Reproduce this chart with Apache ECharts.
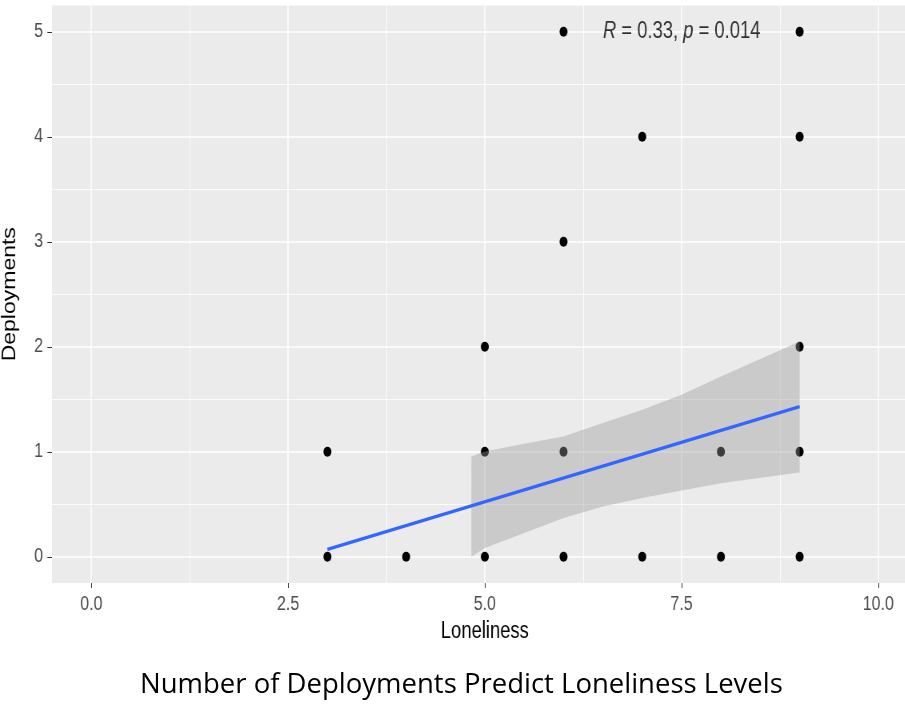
<!DOCTYPE html>
<html>
<head>
<meta charset="utf-8">
<script src="https://cdn.jsdelivr.net/npm/echarts@6/dist/echarts.min.js"></script>
<style>
  html, body { margin: 0; padding: 0; background: #ffffff; overflow: hidden; }
  #wrap { position: relative; width: 905px; height: 704px; overflow: hidden; }
  #plot { position: absolute; left: 0; top: 0; height: 704px; transform-origin: 0 0; }
  #caption { position: absolute; left: 0; top: 650px; width: 905px; height: 54px; }
</style>
</head>
<body>
<div id="wrap">
  <div id="plot"></div>
  <div id="caption"></div>
</div>
<script>
// Observations: loneliness score (x) vs number of deployments (y)
const lonelinessX = [3, 3, 4, 5, 5, 5, 6, 6, 6, 6, 7, 7, 8, 8, 9, 9, 9, 9, 9];
const deploymentsY = [0, 1, 0, 0, 1, 2, 0, 1, 3, 5, 0, 4, 0, 1, 0, 1, 2, 4, 5];

// Linear fit (lm) and its 95% confidence band
const fitX = [3, 9];
const fitY = [0.07, 1.43];
const bandX    = [4.83, 5, 5.5, 6, 6.5, 7, 7.5, 8, 8.5, 9];
const bandLow  = [0.0, 0.083, 0.226, 0.368, 0.479, 0.559, 0.632, 0.70, 0.752, 0.803];
const bandHigh = [0.955, 1.003, 1.076, 1.146, 1.273, 1.40, 1.543, 1.717, 1.883, 2.05];

// Axis limits and breaks
const xLimits = [-0.5, 10.5];
const yLimits = [-0.25, 5.25];
const xMajor = [0, 2.5, 5, 7.5, 10];
const xMinor = [1.25, 3.75, 6.25, 8.75];
const yMajor = [0, 1, 2, 3, 4, 5];
const yMinor = [0.5, 1.5, 2.5, 3.5, 4.5];

// Correlation annotation
const corrR = '0.33';
const corrP = '0.014';
const corrAt = [6.5, 5];

const captionText = 'Number of Deployments Predict Loneliness Levels';

// The plot panel is drawn on a wider canvas and condensed horizontally,
// giving the narrow lettering and slightly oval points of the exported figure.
const SQUEEZE = 0.8;
const plotEl = document.getElementById('plot');
plotEl.style.width = (905 / SQUEEZE) + 'px';
plotEl.style.transform = 'scaleX(' + SQUEEZE + ')';
const sx = v => v / SQUEEZE;  // screen px -> plot canvas px (horizontal)

const sansFont = '"Liberation Sans", Arial, Helvetica, sans-serif';

function axisPair(kind, limits, major, minor, fmt) {
  const base = {
    type: 'value', min: limits[0], max: limits[1],
    axisLine: { show: false, onZero: false }
  };
  return [
    Object.assign({}, base, {
      axisTick: {
        show: true, length: kind === 'x' ? 5 : sx(4.6), customValues: major,
        lineStyle: { color: '#333333', width: 1 }
      },
      axisLabel: {
        customValues: major, formatter: fmt, color: '#4d4d4d',
        fontFamily: sansFont, fontSize: 20, margin: kind === 'x' ? 11 : sx(9)
      },
      splitLine: { show: true, lineStyle: { color: '#ffffff', width: 1.5 } }
    }),
    Object.assign({}, base, {
      axisTick: { show: false, customValues: minor },
      axisLabel: { show: false, customValues: minor },
      splitLine: { show: true, lineStyle: { color: '#ffffff', width: 0.8 } }
    })
  ];
}

const xAxes = axisPair('x', xLimits, xMajor, xMinor, v => v.toFixed(1));
Object.assign(xAxes[0], {
  name: 'Loneliness', nameLocation: 'middle', nameGap: 37,
  nameTextStyle: { fontFamily: sansFont, fontSize: 23, color: '#000000' }
});
const yAxes = axisPair('y', yLimits, yMajor, yMinor, v => String(v));
Object.assign(yAxes[0], {
  name: 'Deployments', nameLocation: 'middle', nameGap: 41,
  nameTextStyle: { fontFamily: sansFont, fontSize: 23, color: '#000000' }
});

const plot = echarts.init(plotEl, null, { renderer: 'canvas' });

plot.setOption({
  animation: false,
  backgroundColor: 'transparent',
  grid: {
    left: sx(52), top: 5.5, width: sx(865.7), height: 577.5,
    outerBoundsMode: 'none', containLabel: false,
    show: true, backgroundColor: '#ebebeb', borderWidth: 0
  },
  xAxis: xAxes,
  yAxis: yAxes,
  series: [
    {
      type: 'scatter', xAxisIndex: 0, yAxisIndex: 0, z: 2, silent: true,
      symbol: 'circle', symbolSize: 10,
      itemStyle: { color: '#000000', opacity: 1 },
      data: lonelinessX.map((x, i) => [x, deploymentsY[i]])
    },
    {
      type: 'custom', xAxisIndex: 0, yAxisIndex: 0, z: 3, silent: true,
      data: [[bandX[0], bandLow[0]]],
      renderItem: (params, api) => {
        const upper = bandX.map((x, i) => api.coord([x, bandHigh[i]]));
        const lower = bandX.map((x, i) => api.coord([x, bandLow[i]])).reverse();
        return {
          type: 'polygon',
          shape: { points: upper.concat(lower) },
          style: { fill: 'rgba(153,153,153,0.4)' }
        };
      }
    },
    {
      type: 'line', xAxisIndex: 0, yAxisIndex: 0, z: 4, silent: true,
      symbol: 'none',
      lineStyle: { color: '#3366ff', width: 3.5 },
      data: fitX.map((x, i) => [x, fitY[i]])
    },
    {
      type: 'scatter', xAxisIndex: 0, yAxisIndex: 0, z: 5, silent: true,
      symbolSize: 0,
      data: [corrAt],
      label: {
        show: true, position: 'right', distance: 0,
        formatter: '{i|R} = ' + corrR + ', {i|p} = ' + corrP,
        fontFamily: sansFont, fontSize: 23, color: '#000000',
        rich: { i: { fontStyle: 'italic', fontFamily: sansFont, fontSize: 23, color: '#000000' } }
      }
    }
  ]
});

// Figure caption underneath the plot
const caption = echarts.init(document.getElementById('caption'), null, { renderer: 'canvas' });
caption.setOption({
  animation: false,
  title: {
    text: captionText,
    left: 140, top: 21, padding: 0,
    textStyle: { fontFamily: '"Open Sans", "Noto Sans", sans-serif', fontSize: 27.5, fontWeight: 'normal', color: '#000000' }
  }
});
</script>
</body>
</html>
